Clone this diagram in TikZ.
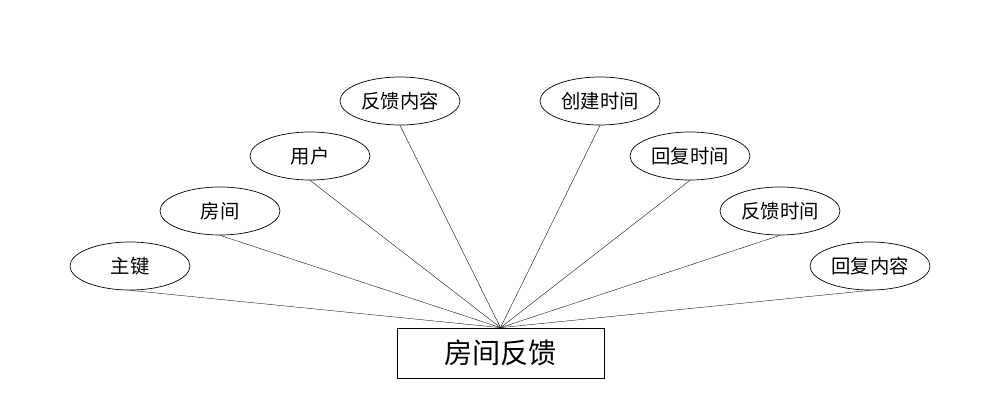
\documentclass[tikz,border=0pt]{standalone}
\usepackage{fontspec}
\setmainfont{Noto Sans CJK SC}
\usetikzlibrary{shapes.geometric}
\tikzset{attr/.style={draw,ellipse,minimum width=2.4cm,minimum height=0.96cm,inner sep=0pt,font=\fontsize{11}{13}\selectfont},
  entity/.style={draw,minimum width=4.14cm,minimum height=1cm,font=\fontsize{16}{18}\selectfont}}
\begin{document}
\begin{tikzpicture}
  \useasboundingbox (0,0) rectangle (20,8.16);
  \node[entity] (Feedback) at (10.01,1.1) {房间反馈};

  \node[attr] (Key)     at (2.6,2.84)  {主键};
  \node[attr] (Room)    at (4.4,3.94)  {房间};
  \node[attr] (User)    at (6.2,5.04)  {用户};
  \node[attr] (Content) at (8.0,6.14)  {反馈内容};
  \node[attr] (Created) at (12.0,6.14) {创建时间};
  \node[attr] (ReplyT)  at (13.8,5.04) {回复时间};
  \node[attr] (FeedT)   at (15.6,3.94) {反馈时间};
  \node[attr] (ReplyC)  at (17.4,2.84) {回复内容};

  \foreach \a in {Key,Room,User,Content,Created,ReplyT,FeedT,ReplyC}{%
    \draw[very thin] (Feedback.north) -- (\a.south);
  }
\end{tikzpicture}
\end{document}
